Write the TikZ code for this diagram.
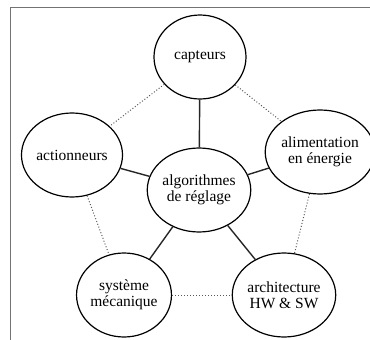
\documentclass[tikz,border=0pt]{standalone}
\usepackage{fontspec}
\setmainfont{Liberation Serif}
\usetikzlibrary{shapes}

\begin{document}
\begin{tikzpicture}[x=1pt,y=-1pt,
  bulle/.style={draw,ellipse,line width=1.2pt,minimum width=92pt,minimum height=84pt,inner sep=0pt,align=center,font=\fontsize{15.5}{16.5}\selectfont},
  lien/.style={line width=1.4pt,black!85},
  pointille/.style={line width=1pt,black!65,dotted}]
\useasboundingbox (0,0) rectangle (370,340);
\draw[black!55,line width=1.8pt] (370,7.5) -- (10.5,7.5) -- (10.5,340);
\node[bulle] (algo) at (199,190) {algorithmes\\de réglage};
\node[bulle] (capteurs) at (200,57) {capteurs};
\node[bulle] (actionneurs) at (72,155) {actionneurs};
\node[bulle] (alimentation) at (320,152) {alimentation\\en énergie};
\node[bulle] (systeme) at (124,295) {système\\mécanique};
\node[bulle] (architecture) at (284,295) {architecture\\HW \& SW};
\draw[lien] (algo) -- (capteurs);
\draw[lien] (algo) -- (actionneurs);
\draw[lien] (algo) -- (alimentation);
\draw[lien] (algo) -- (systeme);
\draw[lien] (algo) -- (architecture);
\draw[pointille] (capteurs) -- (actionneurs);
\draw[pointille] (capteurs) -- (alimentation);
\draw[pointille] (actionneurs) -- (systeme);
\draw[pointille] (alimentation) -- (architecture);
\draw[pointille] (systeme) -- (architecture);
\end{tikzpicture}
\end{document}
